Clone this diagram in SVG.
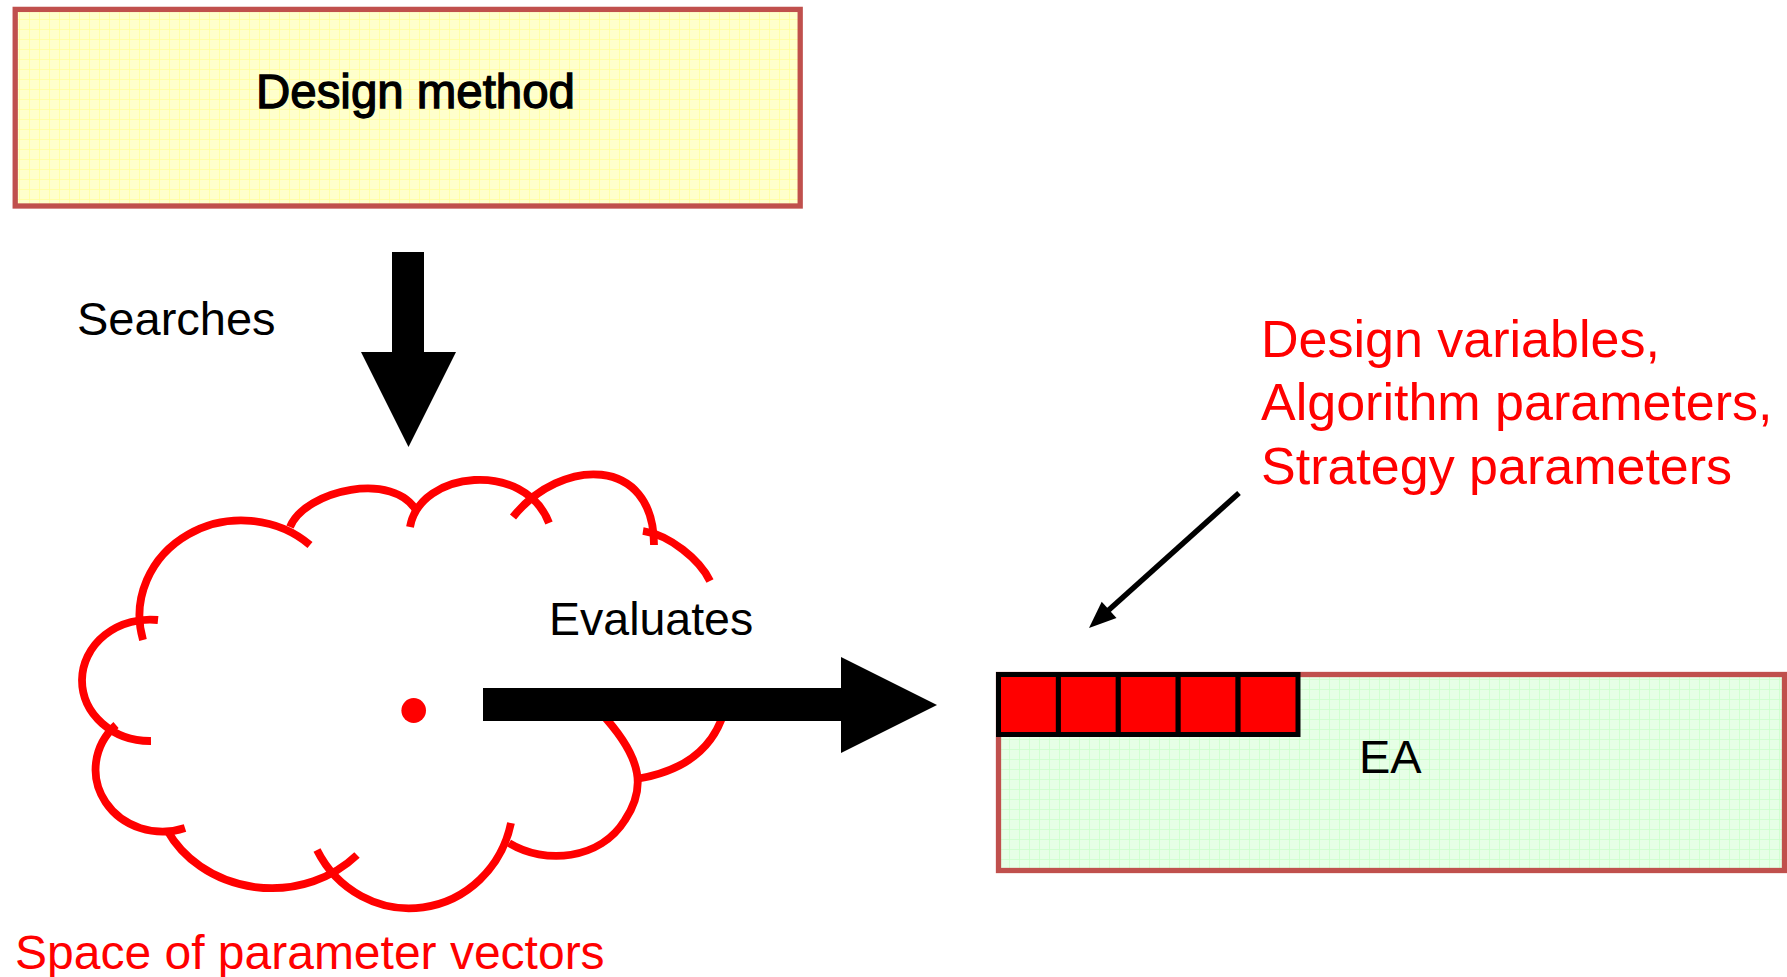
<svg xmlns="http://www.w3.org/2000/svg" width="1787" height="977" viewBox="0 0 1787 977">
  <style>
    .lbl { font-family: "Liberation Sans", Arial, sans-serif; fill: #000; }
    .red { font-family: "Liberation Sans", Arial, sans-serif; fill: #FF0000; }
    .frame { stroke: #C0504D; stroke-width: 5.3; }
    .puff { fill: none; stroke: #FF0000; stroke-width: 7.8; }
    .cell { fill: #FF0000; stroke: #000; stroke-width: 5; }
    .fat { fill: #000; }
  </style>
  <defs>
    <pattern id="gridYellow" width="10" height="10" patternUnits="userSpaceOnUse">
      <rect width="10" height="10" fill="#FFFFCC"/>
      <path d="M9.5 0V10M0 9.5H10" stroke="#FFFF99" stroke-width="1" stroke-opacity="0.7"/>
    </pattern>
    <pattern id="gridGreen" width="10" height="10" patternUnits="userSpaceOnUse">
      <rect width="10" height="10" fill="#E6FFE6"/>
      <path d="M9.5 0V10M0 9.5H10" stroke="#CCFFCC" stroke-width="1" stroke-opacity="0.8"/>
    </pattern>
  </defs>

  <rect width="1787" height="977" fill="#FFFFFF"/>

  <!-- design method box -->
  <g id="design-method">
    <rect class="frame" x="15.2" y="9.4" width="785" height="196.6" fill="url(#gridYellow)"/>
    <text class="lbl" x="256" y="107.5" font-size="48" stroke="#000" stroke-width="1.3" textLength="319" lengthAdjust="spacingAndGlyphs">Design method</text>
  </g>

  <!-- search space cloud -->
  <g id="parameter-space">
    <path class="puff" d="M143,640 A102,95 0 0 1 310,545"/>
    <path class="puff" d="M290,527 C305,490 395,470 417,512"/>
    <path class="puff" d="M410,527 C420,470 525,460 549,523"/>
    <path class="puff" d="M513,517 C561,457 654,455 654,545"/>
    <path class="puff" d="M643,531 C670,535 700,560 710,581"/>
    <path class="puff" d="M158,620 A68,61 0 0 0 82,680 A68,61 0 0 0 151,741"/>
    <path class="puff" d="M116,725 A67,62 0 0 0 185,828"/>
    <path class="puff" d="M167,830 A117,105 0 0 0 357,855"/>
    <path class="puff" d="M317,850 A104,108 0 0 0 511,823"/>
    <path class="puff" d="M509,843 C545,865 600,860 625,820 C645,790 645,760 600,712"/>
    <path class="puff" d="M724,712 C712,752 680,772 636,779"/>
    <ellipse cx="413.7" cy="710.5" rx="12.3" ry="12.5" fill="#FF0000"/>
    <text class="red" x="15" y="969" font-size="48">Space of parameter vectors</text>
  </g>

  <!-- EA box with parameter vector -->
  <g id="ea">
    <rect class="frame" x="998.5" y="674.5" width="786" height="196" fill="url(#gridGreen)"/>
    <rect class="cell" x="998.5" y="674.5" width="59.9" height="60"/>
    <rect class="cell" x="1058.4" y="674.5" width="59.9" height="60"/>
    <rect class="cell" x="1118.3" y="674.5" width="59.9" height="60"/>
    <rect class="cell" x="1178.2" y="674.5" width="59.9" height="60"/>
    <rect class="cell" x="1238.1" y="674.5" width="59.9" height="60"/>
    <text class="lbl" x="1359" y="773" font-size="47">EA</text>
  </g>

  <!-- parameter list annotation -->
  <g id="parameter-list">
    <text class="red" x="1261" y="357" font-size="52">Design variables,</text>
    <text class="red" x="1261" y="420" font-size="52">Algorithm parameters,</text>
    <text class="red" x="1261" y="484" font-size="52">Strategy parameters</text>
  </g>

  <!-- connectors -->
  <g id="connectors">
    <polygon class="fat" points="392,252 424,252 424,352 456,352 408.5,447 361,352 392,352"/>
    <text class="lbl" x="77" y="335" font-size="47">Searches</text>
    <polygon class="fat" points="483,688 841,688 841,657 937,705 841,753 841,721 483,721"/>
    <text class="lbl" x="549" y="635" font-size="46.5">Evaluates</text>
    <line x1="1239" y1="493" x2="1106" y2="612.5" stroke="#000" stroke-width="5.5"/>
    <polygon class="fat" points="1089,628 1101.7,601.7 1116.5,618.1"/>
  </g>
</svg>
